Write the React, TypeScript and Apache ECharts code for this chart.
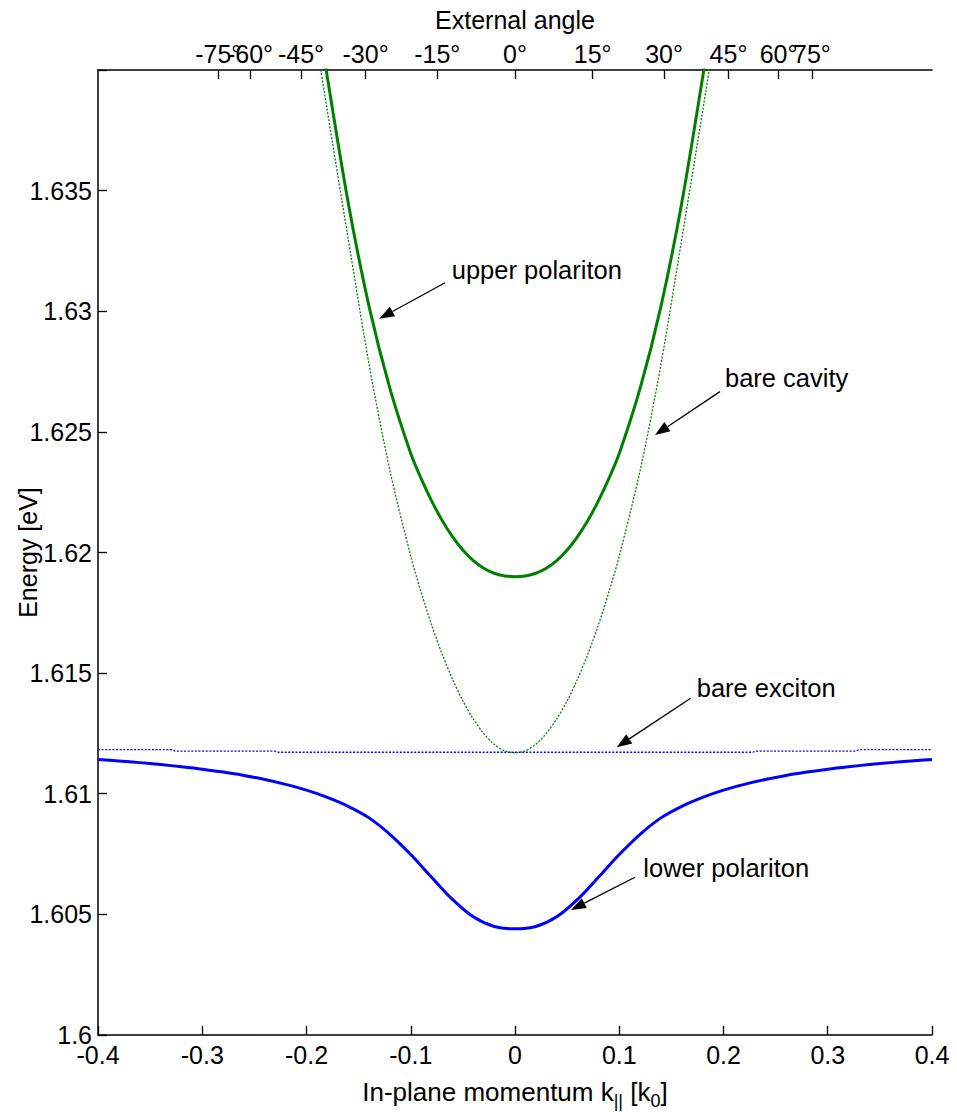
import React, { useEffect, useRef } from "react";
import * as echarts from "echarts";

// ---------- data ----------
// in-plane momentum grid for the lower polariton [k0]
const LP_K = [
  -0.4, -0.38, -0.36, -0.34, -0.32, -0.3, -0.28, -0.26, -0.24, -0.22, -0.2,
  -0.18, -0.16, -0.14, -0.12, -0.1, -0.08, -0.06, -0.04, -0.02, 0,
  0.02, 0.04, 0.06, 0.08, 0.1, 0.12, 0.14, 0.16, 0.18, 0.2,
  0.22, 0.24, 0.26, 0.28, 0.3, 0.32, 0.34, 0.36, 0.38, 0.4,
];
const LP_E = [
  1.61142, 1.61136, 1.61129, 1.61121, 1.61112, 1.61102, 1.6109, 1.61076, 1.61059, 1.61039, 1.61015,
  1.60985, 1.60948, 1.609, 1.60832, 1.60748, 1.60654, 1.60562, 1.6049, 1.6045, 1.6044,
  1.6045, 1.6049, 1.60562, 1.60654, 1.60748, 1.60832, 1.609, 1.60948, 1.60985, 1.61015,
  1.61039, 1.61059, 1.61076, 1.6109, 1.61102, 1.61112, 1.61121, 1.61129, 1.61136, 1.61142,
];

// grid for upper polariton and bare cavity (denser near the band bottom)
const UC_K = [
  -0.2, -0.18, -0.16, -0.14, -0.12, -0.1, -0.09, -0.08, -0.07, -0.06, -0.05, -0.04, -0.03, -0.02, -0.01, 0,
  0.01, 0.02, 0.03, 0.04, 0.05, 0.06, 0.07, 0.08, 0.09, 0.1, 0.12, 0.14, 0.16, 0.18, 0.2,
];
const UP_E = [
  1.6453, 1.6397, 1.6345, 1.6302, 1.6268, 1.6241, 1.62306, 1.62214, 1.62134, 1.62066, 1.6201, 1.61966, 1.61935, 1.61914, 1.61903, 1.619,
  1.61903, 1.61914, 1.61935, 1.61966, 1.6201, 1.62066, 1.62134, 1.62214, 1.62306, 1.6241, 1.6268, 1.6302, 1.6345, 1.6397, 1.6453,
];
const CAV_E = [
  1.6437, 1.6383, 1.633, 1.6278, 1.6234, 1.61985, 1.61835, 1.617, 1.6158, 1.61475, 1.61385, 1.6131, 1.6125, 1.61205, 1.61178, 1.6117,
  1.61178, 1.61205, 1.6125, 1.6131, 1.61385, 1.61475, 1.6158, 1.617, 1.61835, 1.61985, 1.6234, 1.6278, 1.633, 1.6383, 1.6437,
];

// bare exciton (nearly flat, drawn with small steps)
const EX_K = [-0.4, -0.329, -0.326, -0.23, -0.227, 0.228, 0.231, 0.327, 0.33, 0.4];
const EX_E = [1.61183, 1.61183, 1.61177, 1.61177, 1.61172, 1.61172, 1.61177, 1.61177, 1.61183, 1.61183];

// top axis: external angle ticks
const TOP_TICK_K = [-0.2846, -0.2542, -0.2053, -0.1433, -0.0746, 0, 0.0745, 0.143, 0.2048, 0.2528, 0.2848];
const TOP_TICK_LABELS = ["-75°", "-60°", "-45°", "-30°", "-15°", "0°", "15°", "30°", "45°", "60°", "75°"];
// labels are split over two overlaid top axes so that overlapping neighbours all stay visible
const TOP_LABEL_SET_A = [-0.2846, -0.2053, -0.0746, 0.0745, 0.2048, 0.2848];
const TOP_LABEL_SET_B = [-0.2542, -0.1433, 0, 0.143, 0.2528];

// annotations (data coordinates)
const ANN_TEXT = ["upper polariton", "bare cavity", "bare exciton", "lower polariton"];
const ANN_TEXT_POS = [
  [-0.0607, 1.63173],
  [0.2014, 1.62724],
  [0.1743, 1.61439],
  [0.1231, 1.60693],
];
const ANN_FROM = [
  [-0.0671, 1.63118],
  [0.1966, 1.62667],
  [0.1685, 1.61396],
  [0.1151, 1.60654],
];
const ANN_TO = [
  [-0.1302, 1.62969],
  [0.1343, 1.62487],
  [0.0976, 1.61193],
  [0.0537, 1.60518],
];

const FONT = "'Liberation Sans', Arial, Helvetica, sans-serif";
const GREEN = "#008000";
const BLUE = "#0000ff";

function zip(xs: number[], ys: number[]) {
  return xs.map((x, i) => [x, ys[i]]);
}

function angleLabel(v: number) {
  let best = 0;
  for (let i = 0; i < TOP_TICK_K.length; i++) {
    if (Math.abs(TOP_TICK_K[i] - v) < Math.abs(TOP_TICK_K[best] - v)) best = i;
  }
  return TOP_TICK_LABELS[best];
}

export default function App() {
  const ref = useRef<HTMLDivElement>(null);

  useEffect(() => {
    const el = ref.current!;
    const chart = echarts.init(el, null, { renderer: "svg" });

    const axisLine = { show: true, onZero: false, lineStyle: { color: "#000", width: 1.5 } };
    const axisTick = { show: true, inside: true, length: 9, lineStyle: { color: "#000", width: 1.3 } };
    const topLabel = (values: number[]) => ({
      color: "#000",
      fontSize: 25,
      fontFamily: FONT,
      margin: 4,
      hideOverlap: false,
      showMinLabel: true,
      showMaxLabel: true,
      customValues: values,
      formatter: angleLabel,
    });

    const option: any = {
      animation: false,
      backgroundColor: "#fff",
      textStyle: { fontFamily: FONT },
      grid: { left: 98, right: 25, top: 70, bottom: 77, containLabel: false, outerBoundsMode: "none" },
      xAxis: [
        {
          type: "value",
          position: "bottom",
          min: -0.4,
          max: 0.4,
          interval: 0.1,
          axisLine,
          axisTick,
          splitLine: { show: false },
          axisLabel: {
            color: "#000",
            fontSize: 25,
            fontFamily: FONT,
            margin: 7,
            hideOverlap: false,
            showMinLabel: true,
            showMaxLabel: true,
            formatter: (v: number) => String(parseFloat(v.toFixed(2))),
          },
          name: "{m|In-plane momentum k}{s|||}{m| [k}{s|0}{m|]}",
          nameLocation: "middle",
          nameGap: 44,
          nameMoveOverlap: false,
          nameTextStyle: {
            color: "#000",
            fontFamily: FONT,
            fontSize: 26,
            rich: {
              m: { fontSize: 26, fontFamily: FONT, color: "#000", lineHeight: 30, verticalAlign: "top" },
              s: { fontSize: 18, fontFamily: FONT, color: "#000", lineHeight: 20, padding: [13, 0, 0, 0], verticalAlign: "top" },
            },
          },
        },
        {
          type: "value",
          position: "top",
          offset: 0,
          min: -0.4,
          max: 0.4,
          axisLine,
          axisTick: { ...axisTick, customValues: TOP_TICK_K },
          splitLine: { show: false },
          axisLabel: topLabel(TOP_LABEL_SET_A),
          name: "External angle",
          nameLocation: "middle",
          nameGap: 38,
          nameMoveOverlap: false,
          nameTextStyle: { color: "#000", fontFamily: FONT, fontSize: 25 },
        },
        {
          type: "value",
          position: "top",
          offset: 0,
          min: -0.4,
          max: 0.4,
          axisLine: { show: false, onZero: false },
          axisTick: { show: false },
          splitLine: { show: false },
          axisLabel: topLabel(TOP_LABEL_SET_B),
        },
      ],
      yAxis: {
        type: "value",
        min: 1.6,
        max: 1.64,
        interval: 0.005,
        axisLine,
        axisTick,
        splitLine: { show: false },
        axisLabel: {
          color: "#000",
          fontSize: 25,
          fontFamily: FONT,
          margin: 6,
          hideOverlap: false,
          showMinLabel: true,
          formatter: (v: number) => (v > 1.6395 ? "" : String(parseFloat(v.toFixed(3)))),
        },
        name: "Energy [eV]",
        nameLocation: "middle",
        nameGap: 58,
        nameMoveOverlap: false,
        nameTextStyle: { color: "#000", fontFamily: FONT, fontSize: 25 },
      },
      series: [
        {
          name: "bare exciton",
          type: "line",
          data: zip(EX_K, EX_E),
          showSymbol: false,
          lineStyle: { color: BLUE, width: 1.3, type: [2, 1.6] },
          z: 2,
        },
        {
          name: "bare cavity",
          type: "line",
          data: zip(UC_K, CAV_E),
          smooth: 0.3,
          showSymbol: false,
          clip: true,
          lineStyle: { color: GREEN, width: 1.3, type: [2, 1.6] },
          z: 2,
        },
        {
          name: "upper polariton",
          type: "line",
          data: zip(UC_K, UP_E),
          smooth: 0.3,
          showSymbol: false,
          clip: true,
          lineStyle: { color: GREEN, width: 3 },
          z: 3,
        },
        {
          name: "lower polariton",
          type: "line",
          data: zip(LP_K, LP_E),
          smooth: 0.3,
          showSymbol: false,
          lineStyle: { color: BLUE, width: 3 },
          z: 3,
        },
      ],
    };

    chart.setOption(option);

    const px = (p: number[]) => chart.convertToPixel({ xAxisIndex: 0, yAxisIndex: 0 }, p) as number[];
    const graphics: any[] = [];
    for (let i = 0; i < ANN_TEXT.length; i++) {
      const t = px(ANN_TEXT_POS[i]);
      const a = px(ANN_FROM[i]);
      const b = px(ANN_TO[i]);
      const dx = b[0] - a[0];
      const dy = b[1] - a[1];
      const L = Math.hypot(dx, dy);
      const ux = dx / L;
      const uy = dy / L;
      const head = 15;
      const hw = 5.5;
      const base = [b[0] - ux * head, b[1] - uy * head];
      graphics.push({
        type: "line",
        silent: true,
        shape: { x1: a[0], y1: a[1], x2: base[0], y2: base[1] },
        style: { stroke: "#000", lineWidth: 1.3 },
      });
      graphics.push({
        type: "polygon",
        silent: true,
        shape: {
          points: [
            [b[0], b[1]],
            [base[0] - uy * hw, base[1] + ux * hw],
            [base[0] + uy * hw, base[1] - ux * hw],
          ],
        },
        style: { fill: "#000" },
      });
      graphics.push({
        type: "text",
        silent: true,
        x: t[0],
        y: t[1],
        style: {
          text: ANN_TEXT[i],
          fontSize: 25.5,
          fontFamily: FONT,
          fill: "#000",
          align: "left",
          verticalAlign: "middle",
        },
      });
    }
    chart.setOption({ graphic: graphics });

    return () => chart.dispose();
  }, []);

  return (
    <div
      ref={ref}
      style={{ position: "absolute", left: 0, top: 0, width: 957, height: 1112, background: "#fff" }}
    />
  );
}
